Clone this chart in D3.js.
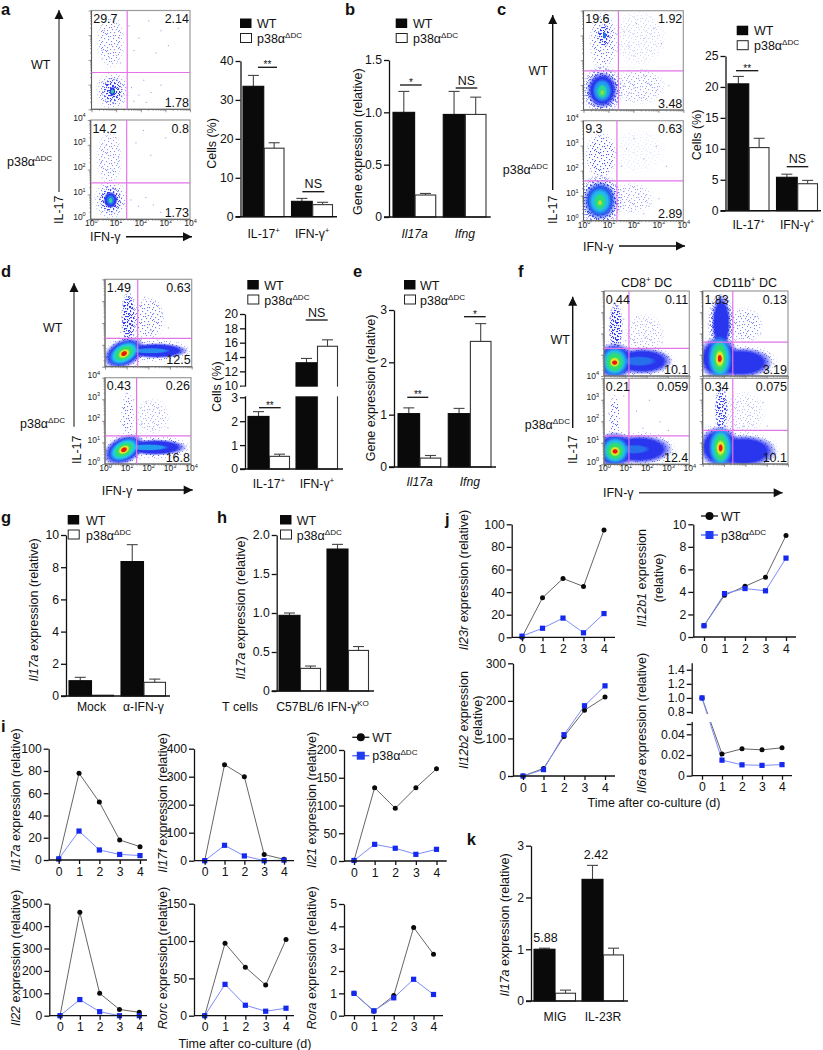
<!DOCTYPE html>
<html>
<head>
<meta charset="utf-8">
<script src="https://cdnjs.cloudflare.com/ajax/libs/d3/7.8.5/d3.min.js"></script>
<style>
  body { margin: 0; background: #fff; }
  svg { display: block; }
  text { font-family: "Liberation Sans", Arial, sans-serif; fill: #111; }
  .axis path, .axis line { stroke: #111; stroke-width: 1.3; }
  .axis text { font-size: 12.2px; font-family: "Liberation Sans", Arial, sans-serif; fill: #111; }
  .flowaxis line { stroke: #777; stroke-width: 0.7; }
  .flowaxis path { display: none; }
  .flowaxis text { font-size: 8.5px; font-family: "Liberation Sans", Arial, sans-serif; fill: #222; }
</style>
</head>
<body>
<script>
// ---- bar panel values ----
const cellCats = ["IL-17^{+}", "IFN-γ^{+}"];
const geneCats = ["_{Il17a}", "_{Ifng}"];
const aWT = [33.5, 3.95], aKO = [17.6, 3.1], aWTerr = [2.8, 0.75], aKOerr = [1.4, 0.6];
const bWT = [1.0, 0.98], bKO = [0.21, 0.98], bWTerr = [0.2, 0.22], bKOerr = [0.015, 0.165];
const cWT = [20.5, 5.4], cKO = [10.2, 4.36], cWTerr = [1.2, 0.5], cKOerr = [1.5, 0.54];
const dWT = [2.2, 13.2], dKO = [0.53, 15.5], dWTerr = [0.2, 0.6], dKOerr = [0.09, 0.9];
const eWT = [1.02, 1.02], eKO = [0.17, 2.4], eWTerr = [0.11, 0.1], eKOerr = [0.05, 0.34];
const gCats = ["Mock", "α-IFN-γ"];
const gWT = [0.95, 8.35], gKO = [0.05, 0.85], gWTerr = [0.21, 1.05], gKOerr = [0, 0.2];
const hCats = ["C57BL/6", "IFN-γ^{KO}"];
const hWT = [0.97, 1.82], hKO = [0.29, 0.52], hWTerr = [0.03, 0.06], hKOerr = [0.03, 0.05];
const kCats = ["MIG", "IL-23R"];
const kWT = [1.0, 2.35], kKO = [0.15, 0.89], kWTerr = [0.02, 0.27], kKOerr = [0.06, 0.13];

// ---- time course values ----
const days = [0, 1, 2, 3, 4];
const il17aWT = [1, 78, 52, 18, 12], il17aKO = [1, 26, 9, 5, 4];
const il17fWT = [0, 343, 300, 22, 5], il17fKO = [0, 55, 17, 0, 2];
const il21WT = [1, 132, 95, 132, 166], il21KO = [1, 30, 23, 12, 21];
const il22WT = [0, 462, 100, 28, 15], il22KO = [0, 72, 18, 0, 0];
const rorcWT = [0, 97, 65, 41, 102], rorcKO = [0, 42, 14, 6, 10];
const roraWT = [1, 0.2, 0.9, 3.95, 2.75], roraKO = [1, 0.22, 0.8, 1.63, 0.95];
const il23rWT = [0, 35, 52, 45, 95], il23rKO = [1, 8, 17, 4, 21];
const il12b1WT = [1, 3.7, 4.5, 5.3, 9], il12b1KO = [1, 3.85, 4.3, 4.1, 7];
const il12b2WT = [0, 20, 105, 175, 210], il12b2KO = [0, 17, 110, 187, 240];
const il6raWT = [1, 0.021, 0.026, 0.025, 0.027], il6raKO = [1, 0.015, 0.0105, 0.01, 0.0107];

// ---- flow plots: quadrant %, gate, density regions, sparse events (log10 units) ----
// density region = [x, y, radius x, radius y, density level, tilt]
const aWtPct = ["29.7", "2.14", "1.78"], aWtGate = [1.45, 1.49];
const aWtDensity = [[0.78, 2.75, 0.55, 1.05, 0.4], [0.85, 0.74, 0.65, 0.75, 0.4], [0.85, 0.75, 0.42, 0.52, 0.7], [0.85, 0.72, 0.24, 0.34, 0.75], [0.85, 0.72, 0.12, 0.18, 1.0], [0.85, 0.72, 0.06, 0.09, 2.6]];
const aWtEvents = [[1.5, 3.4], [1.9, 2.9], [2.3, 3.6], [2.8, 3.2], [3.1, 2.6], [3.5, 3.3], [1.7, 2.4], [2.6, 2.3], [1.6, 0.9], [1.9, 0.6], [2.1, 1.2], [2.4, 0.7], [1.7, 0.35], [2.8, 1.0], [3.1, 0.5], [2.2, 0.3], [0.5, 3.2], [0.9, 3.5], [1.1, 2.9], [0.4, 2.4], [0.7, 2.1], [1.0, 2.2], [0.55, 3.6], [1.15, 1.9], [0.3, 1.1], [1.3, 0.6]];
const aKoPct = ["14.2", "0.8", "1.73"], aKoGate = [1.45, 1.47];
const aKoDensity = [[0.75, 2.45, 0.5, 1.05, 0.35], [0.8, 0.78, 0.65, 0.75, 0.45], [0.8, 0.78, 0.44, 0.52, 0.75], [0.8, 0.78, 0.27, 0.32, 1.0], [0.8, 0.78, 0.16, 0.2, 1.5], [0.8, 0.76, 0.08, 0.1, 2.6]];
const aKoEvents = [[1.8, 3.1], [2.4, 2.6], [3.0, 3.3], [2.1, 3.6], [1.6, 0.8], [1.9, 0.55], [2.2, 0.9], [2.5, 0.6], [2.8, 0.3], [0.6, 3.0], [1.0, 3.3], [0.85, 2.0], [0.4, 2.3], [1.1, 2.5], [0.7, 3.5]];
const cWtPct = ["19.6", "1.92", "3.48"], cWtGate = [1.4, 1.58];
const cWtDensity = [[2.25, 0.97, 1.0, 0.7, 0.3], [2.2, 2.9, 1.1, 1.1, 0.15], [0.79, 2.79, 0.55, 1.15, 0.45], [0.82, 3.0, 0.27, 0.45, 0.75], [0.85, 3.0, 0.07, 0.13, 1.4], [0.75, 0.8, 0.78, 0.92, 0.6], [0.75, 0.8, 0.58, 0.68, 1.0], [0.75, 0.78, 0.36, 0.44, 1.7], [0.75, 0.75, 0.2, 0.27, 2.6], [0.75, 0.7, 0.08, 0.11, 3.4]];
const cWtEvents = [[1.6, 3.2], [1.8, 2.6], [2.1, 3.5], [2.4, 2.9], [2.8, 3.3], [3.1, 2.7], [2.0, 2.2], [1.6, 1.0], [1.9, 0.7], [2.1, 1.3], [2.3, 0.5], [2.6, 1.1], [2.9, 0.8], [3.2, 0.4], [3.4, 1.0], [1.7, 0.4], [2.4, 1.4], [2.0, 0.9]];
const cKoPct = ["9.3", "0.63", "2.89"], cKoGate = [1.34, 1.59];
const cKoDensity = [[1.9, 0.9, 0.9, 0.6, 0.3], [2.2, 2.8, 1.1, 0.9, 0.08], [0.7, 2.6, 0.6, 0.9, 0.55], [0.66, 0.8, 0.85, 0.98, 0.7], [0.66, 0.8, 0.62, 0.72, 1.2], [0.66, 0.78, 0.42, 0.5, 1.9], [0.66, 0.76, 0.23, 0.32, 2.8], [0.66, 0.72, 0.09, 0.11, 3.6]];
const cKoEvents = [[1.7, 2.9], [2.0, 3.3], [2.4, 2.5], [2.9, 3.0], [3.3, 2.2], [1.5, 2.2], [1.6, 1.2], [2.2, 1.1], [2.6, 0.6], [3.0, 0.9], [2.4, 0.3], [1.9, 0.4]];
const dWtPct = ["1.49", "0.63", "12.5"], dWtGate = [1.51, 1.3];
const dWtDensity = [[2.0, 2.2, 0.75, 0.95, 0.45], [0.9, 0.62, 1.1, 0.75, 0.5, -25], [2.4, 0.73, 1.5, 0.5, 0.5], [1.08, 2.2, 0.32, 1.2, 0.75], [1.08, 2.1, 0.2, 1.0, 0.75], [2.38, 0.73, 1.35, 0.33, 1], [0.88, 0.62, 0.95, 0.6, 1, -25], [2.1, 0.73, 0.85, 0.12, 1.6], [0.88, 0.62, 0.7, 0.44, 2.0, -30], [0.88, 0.62, 0.48, 0.3, 2.9, -30], [0.88, 0.6, 0.27, 0.18, 3.9, -30], [0.88, 0.6, 0.15, 0.11, 5, -30]];
const dWtEvents = [[1.8, 3.2], [2.3, 3.0], [2.6, 2.5], [2.1, 1.7], [2.9, 1.8], [0.8, 3.0], [1.3, 3.1], [0.7, 1.6]];
const dKoPct = ["0.43", "0.26", "16.8"], dKoGate = [1.47, 1.3];
const dKoDensity = [[2.2, 2.2, 0.8, 0.8, 0.25], [1.05, 2.3, 0.3, 1.0, 0.45], [0.9, 0.66, 1.1, 0.75, 0.5, -25], [2.4, 0.77, 1.5, 0.52, 0.5], [2.35, 0.77, 1.35, 0.35, 1], [0.88, 0.66, 0.95, 0.6, 1, -25], [2.0, 0.77, 0.9, 0.14, 1.7], [0.88, 0.66, 0.7, 0.44, 2.0, -30], [0.88, 0.66, 0.48, 0.3, 2.9, -30], [0.88, 0.66, 0.27, 0.18, 3.9, -30], [0.88, 0.66, 0.15, 0.11, 5, -30]];
const dKoEvents = [[1.9, 2.9], [2.5, 2.4], [2.9, 1.7], [2.2, 1.6], [1.7, 1.9], [1.0, 3.3], [0.7, 2.0], [1.3, 3.0]];
const f8WtPct = ["0.44", "0.11", "10.1"], f8WtGate = [1.17, 1.3];
const f8WtDensity = [[1.9, 2.0, 0.9, 0.9, 0.25], [0.55, 2.3, 0.32, 1.1, 0.75], [0.55, 2.2, 0.2, 0.95, 0.75], [0.5, 0.7, 1.05, 0.95, 0.5], [1.8, 0.7, 1.45, 0.75, 0.5], [1.8, 0.7, 1.3, 0.58, 1], [0.5, 0.7, 0.9, 0.8, 1], [1.65, 0.7, 0.75, 0.22, 1.4], [0.5, 0.68, 0.6, 0.66, 1.9], [0.5, 0.66, 0.41, 0.46, 2.9], [0.5, 0.65, 0.22, 0.22, 3.9], [0.5, 0.63, 0.13, 0.11, 5]];
const f8WtEvents = [[1.5, 2.8], [1.9, 1.8], [2.3, 2.2], [2.7, 1.6], [1.4, 1.6], [0.3, 3.0], [0.9, 2.7], [1.0, 1.7]];
const f8KoPct = ["0.21", "0.059", "12.4"], f8KoGate = [1.17, 1.32];
const f8KoDensity = [[0.5, 2.2, 0.26, 1.05, 0.5], [0.5, 0.68, 1.05, 0.95, 0.5], [1.7, 0.7, 1.6, 0.8, 0.5], [1.64, 0.7, 1.45, 0.63, 1], [0.5, 0.66, 0.9, 0.78, 1], [1.4, 0.7, 0.7, 0.2, 1.4], [0.52, 0.64, 0.6, 0.6, 1.9], [0.52, 0.62, 0.41, 0.41, 2.9], [0.52, 0.6, 0.22, 0.22, 3.9], [0.52, 0.6, 0.13, 0.11, 5]];
const f8KoEvents = [[1.5, 2.5], [2.1, 3.0], [2.6, 2.0], [3.0, 1.6], [1.8, 1.7], [0.9, 3.2], [0.2, 2.4]];
const f11WtPct = ["1.83", "0.13", "3.19"], f11WtGate = [1.41, 1.59];
const f11WtDensity = [[2.0, 2.4, 0.8, 0.8, 0.4], [0.87, 2.5, 0.6, 1.35, 0.6], [0.8, 0.9, 1.05, 1.1, 0.5], [1.9, 0.65, 1.5, 0.8, 0.5], [0.87, 2.5, 0.42, 1.2, 1], [1.82, 0.63, 1.35, 0.66, 1], [0.75, 0.85, 0.9, 0.95, 1], [0.8, 0.85, 0.52, 0.95, 1.9], [0.8, 0.85, 0.33, 0.7, 2.9], [0.8, 0.82, 0.2, 0.38, 3.9], [0.8, 0.82, 0.1, 0.18, 5]];
const f11WtEvents = [[1.7, 3.1], [2.4, 2.8], [2.7, 2.0], [1.8, 1.8], [3.1, 1.1], [3.3, 0.6]];
const f11KoPct = ["0.34", "0.075", "10.1"], f11KoGate = [1.41, 1.57];
const f11KoDensity = [[1.9, 2.4, 1.0, 1.0, 0.2], [0.87, 2.56, 0.3, 1.05, 0.7], [0.8, 0.85, 1.05, 1.05, 0.5], [1.9, 0.6, 1.6, 0.85, 0.5], [1.9, 0.6, 1.45, 0.7, 1], [0.78, 0.8, 0.9, 0.9, 1], [0.84, 0.78, 0.52, 0.85, 1.9], [0.84, 0.76, 0.33, 0.65, 2.9], [0.84, 0.75, 0.2, 0.35, 3.9], [0.84, 0.75, 0.1, 0.17, 5]];
const f11KoEvents = [[1.6, 2.9], [2.2, 2.3], [2.8, 2.9], [3.0, 1.8], [1.9, 1.8], [3.4, 0.5]];

// ---- setup ----
const W = 823, H = 1050;
const ROOT = d3.select("body").append("svg").attr("width", W).attr("height", H);
const FS = 12.5;
const KO = "p38α^{ΔDC}";
const density = d3.scaleLinear().domain([0, 1, 2, 3, 4, 5])
  .range(["#ffffff", "#2a35ee", "#22c8ee", "#30e060", "#f0e820", "#ee1810"]);
const fmt1 = d => d === 0 ? "0" : d3.format(".1f")(d);
const fmt2 = d => d === 0 ? "0" : d3.format(".2f")(d);

const defs = ROOT.append("defs");
defs.append("filter").attr("id", "soft")
  .attr("x", "-20%").attr("y", "-20%").attr("width", "140%").attr("height", "140%")
  .append("feGaussianBlur").attr("stdDeviation", 0.7);
defs.append("filter").attr("id", "softer")
  .attr("x", "-5%").attr("y", "-5%").attr("width", "110%").attr("height", "110%")
  .append("feGaussianBlur").attr("stdDeviation", 0.35);

// stipple tile so the thin regions of a flow plot read as single events
const stippleDots = [[0, 1], [4, 0], [8, 2], [13, 1], [16, 3], [2, 4], [6, 5], [11, 4], [14, 6], [0, 7], [4, 8], [9, 7], [12, 9], [16, 8], [2, 11], [7, 10], [10, 12], [14, 12], [0, 13], [5, 13], [8, 15], [12, 15], [16, 14], [3, 16], [6, 2], [15, 10], [1, 15], [11, 1], [9, 10], [5, 16]];
const stip = defs.append("pattern").attr("id", "stipple").attr("patternUnits", "userSpaceOnUse")
  .attr("width", 17).attr("height", 17);
stip.selectAll("rect").data(stippleDots).join("rect")
  .attr("x", d => d[0]).attr("y", d => d[1]).attr("width", 1.1).attr("height", 1.1).attr("fill", "#fff");
defs.append("mask").attr("id", "stippleMask").attr("maskUnits", "userSpaceOnUse")
  .attr("x", 0).attr("y", 0).attr("width", W).attr("height", H)
  .append("rect").attr("width", W).attr("height", H).attr("fill", "url(#stipple)");
const denseMask = defs.append("mask").attr("id", "denseMask").attr("maskUnits", "userSpaceOnUse")
  .attr("x", 0).attr("y", 0).attr("width", W).attr("height", H);
[[0, 0], [6, 9], [11, 4]].forEach(([dx, dy]) => {
  denseMask.append("rect").attr("x", -17).attr("y", -17).attr("width", W + 34).attr("height", H + 34)
    .attr("fill", "url(#stipple)").attr("transform", `translate(${dx},${dy})`);
});

// radial fade in the colour of one density level
const fades = new Map();
function fadeFill(level) {
  if (!fades.has(level)) {
    const id = "fade" + fades.size;
    const grad = defs.append("radialGradient").attr("id", id);
    const c = density(level);
    grad.append("stop").attr("offset", "0%").attr("stop-color", c);
    grad.append("stop").attr("offset", "68%").attr("stop-color", c);
    grad.append("stop").attr("offset", "100%").attr("stop-color", c).attr("stop-opacity", 0);
    fades.set(level, id);
  }
  return `url(#${fades.get(level)})`;
}

// splits "a^{b}_{c}" into normal, superscript and italic tspans
function rich(sel, str, size) {
  sel.text(null);
  let back = 0;
  str.split(/(\^\{[^}]*\}|_\{[^}]*\})/).filter(Boolean).forEach(p => {
    const t = sel.append("tspan");
    if (p.startsWith("^{")) {
      t.text(p.slice(2, -1)).attr("font-size", size * 0.65).attr("dy", -size * 0.4);
      back = size * 0.4;
    } else {
      t.text(p.startsWith("_{") ? p.slice(2, -1) : p)
        .attr("font-style", p.startsWith("_{") ? "italic" : "normal").attr("dy", back);
      back = 0;
    }
  });
}

function label(x, y, str, o = {}) {
  const size = o.size || FS;
  const t = ROOT.append("text").attr("font-size", size).attr("text-anchor", o.anchor || "start")
    .attr("font-weight", o.weight || "normal")
    .attr("transform", o.rotate ? `translate(${x},${y}) rotate(-90)` : `translate(${x},${y})`);
  rich(t, str, size);
  return t;
}

function arrow(x1, y1, x2, y2, color) {
  const a = Math.atan2(y2 - y1, x2 - x1) * 180 / Math.PI;
  ROOT.append("line").attr("x1", x1).attr("y1", y1).attr("x2", x2).attr("y2", y2)
    .attr("stroke", color).attr("stroke-width", 1.4);
  ROOT.append("path").attr("d", "M0,0L-9,-4.5L-9,4.5Z").attr("fill", "#111")
    .attr("transform", `translate(${x2},${y2}) rotate(${a})`);
}

function barLegend(x, y, textX) {
  ROOT.append("rect").attr("x", x).attr("y", y).attr("width", 11.5).attr("height", 9.5).attr("fill", "#0a0a0a");
  ROOT.append("rect").attr("x", x + 0.5).attr("y", y + 15).attr("width", 11).attr("height", 9)
    .attr("fill", "#fff").attr("stroke", "#222").attr("stroke-width", 1);
  label(textX, y + 9.5, "WT");
  label(textX, y + 24.5, KO);
}

function lineLegend(x, y, y2) {
  [y, y2].forEach((yy, i) => {
    ROOT.append("line").attr("x1", x).attr("x2", x + 17).attr("y1", yy).attr("y2", yy)
      .attr("stroke", i ? "#5568f5" : "#222").attr("stroke-width", 1.4);
  });
  ROOT.append("circle").attr("cx", x + 8.5).attr("cy", y).attr("r", 4).attr("fill", "#0a0a0a");
  ROOT.append("rect").attr("x", x + 4.5).attr("y", y2 - 4).attr("width", 8).attr("height", 8).attr("fill", "#1f3cf0");
  label(x + 20, y + 5, "WT");
  label(x + 20, y2 + 4.5, KO);
}

// ---- grouped bars ----
function barPanel(s) {
  const g = ROOT.append("g");
  const n = s.cats.length;
  const step = (s.right - s.left + s.gap) / n;
  const x0 = d3.scaleBand().domain(s.cats).range([s.left, s.right]).paddingInner(s.gap / step);
  const x1 = d3.scaleBand().domain(["WT", "KO"]).range([0, x0.bandwidth()]);
  const y = s.y;

  [["WT", s.wt, s.wtErr], ["KO", s.ko, s.koErr]].forEach(([name, vals, errs]) => {
    const cx = c => x0(c) + x1(name) + x1.bandwidth() / 2;
    const errG = g.append("g").attr("stroke", "#444").attr("stroke-width", 1.1);
    errG.selectAll("line.stem").data(s.cats.filter((c, i) => errs[i] > 0)).join("line").attr("class", "stem")
      .attr("x1", cx).attr("x2", cx)
      .attr("y1", c => y(vals[s.cats.indexOf(c)]))
      .attr("y2", c => y(vals[s.cats.indexOf(c)] + errs[s.cats.indexOf(c)]));
    errG.selectAll("line.cap").data(s.cats.filter((c, i) => errs[i] > 0)).join("line").attr("class", "cap")
      .attr("x1", c => cx(c) - 5.5).attr("x2", c => cx(c) + 5.5)
      .attr("y1", c => y(vals[s.cats.indexOf(c)] + errs[s.cats.indexOf(c)]))
      .attr("y2", c => y(vals[s.cats.indexOf(c)] + errs[s.cats.indexOf(c)]));
    g.selectAll(`rect.${name}`).data(s.cats).join("rect").attr("class", name)
      .attr("x", c => x0(c) + x1(name) + (name === "KO" ? 0.5 : 0))
      .attr("width", x1.bandwidth() - (name === "KO" ? 1 : 0))
      .attr("y", (c, i) => y(vals[i]))
      .attr("height", (c, i) => y(0) - y(vals[i]))
      .attr("fill", name === "WT" ? "#0a0a0a" : "#fff")
      .attr("stroke", name === "WT" ? "#0a0a0a" : "#333")
      .attr("stroke-width", 1.1);
  });

  g.append("g").attr("class", "axis").attr("transform", `translate(${s.axisX},0)`)
    .call(d3.axisLeft(y).tickValues(s.ticks).tickFormat(s.fmt || (d => d)).tickSize(5).tickSizeOuter(0).tickPadding(2));
  if (s.gapBand) {
    g.append("rect").attr("x", s.axisX - 4).attr("width", s.end - s.axisX + 6)
      .attr("y", y(s.gapBand[1]) + 1).attr("height", y(s.gapBand[0]) - y(s.gapBand[1]) - 2).attr("fill", "#fff");
  }

  // labelGap is the distance from the baseline down to the label baseline
  const bottom = g.append("g").attr("class", "axis").attr("transform", `translate(0,${y(0)})`)
    .call(d3.axisBottom(x0).tickSize(0).tickPadding(s.labelGap));
  bottom.select("path").remove();
  bottom.selectAll("text").attr("dy", null).each(function (c) { rich(d3.select(this), c, FS); });
  g.append("line").attr("x1", s.axisX - 5).attr("x2", s.end).attr("y1", y(0)).attr("y2", y(0))
    .attr("stroke", "#111").attr("stroke-width", 1.6);
}

function sig(x1, x2, y, str) {
  ROOT.append("line").attr("x1", x1).attr("x2", x2).attr("y1", y).attr("y2", y)
    .attr("stroke", "#111").attr("stroke-width", 1.3);
  const isNS = str === "NS";
  label((x1 + x2) / 2, isNS ? y - 3.5 : y + 1, str, { anchor: "middle", size: isNS ? FS : 10 });
}

// ---- time courses ----
function linePanel(s) {
  const g = ROOT.append("g");
  const x = d3.scaleLinear().domain([0, 4]).range([s.x0, s.x4]);
  const y = s.y;
  const line = d3.line().x((d, i) => x(days[i])).y(d => y(d));

  g.append("path").attr("d", line(s.wt)).attr("fill", "none").attr("stroke", "#666").attr("stroke-width", 1);
  g.append("path").attr("d", line(s.ko)).attr("fill", "none").attr("stroke", "#7d8cf8").attr("stroke-width", 1);
  g.selectAll("circle").data(s.wt).join("circle")
    .attr("cx", (d, i) => x(days[i])).attr("cy", d => y(d)).attr("r", 2.5).attr("fill", "#0a0a0a");
  g.selectAll("rect").data(s.ko).join("rect")
    .attr("x", (d, i) => x(days[i]) - 2.6).attr("y", d => y(d) - 2.6)
    .attr("width", 5.2).attr("height", 5.2).attr("fill", "#1428ee");

  g.append("g").attr("class", "axis").attr("transform", `translate(${s.axisX},0)`)
    .call(d3.axisLeft(y).tickValues(s.ticks).tickFormat(s.fmt || (d => d)).tickSize(5).tickSizeOuter(0).tickPadding(2));
  if (s.gapBand) {
    g.append("rect").attr("x", s.axisX - 4).attr("width", 30)
      .attr("y", y(s.gapBand[1]) + 2).attr("height", y(s.gapBand[0]) - y(s.gapBand[1]) - 4).attr("fill", "#fff");
  }
  const bottom = g.append("g").attr("class", "axis").attr("transform", `translate(0,${y(0)})`)
    .call(d3.axisBottom(x).tickValues(days).tickFormat(d => d).tickSize(4).tickPadding(3));
  bottom.select("path").remove();
  g.append("line").attr("x1", s.axisX).attr("x2", s.end).attr("y1", y(0)).attr("y2", y(0))
    .attr("stroke", "#111").attr("stroke-width", 1.3);
}

// ---- flow cytometry plot ----
let flowId = 0;
function flowPlot(s) {
  const [xa, xb, ya, yb] = s.frame;
  const x = d3.scaleLinear().domain([0, 4]).range([xa, xb]);
  const y = d3.scaleLinear().domain([0, 4]).range([yb, ya]);
  const id = "clip" + (flowId++);
  defs.append("clipPath").attr("id", id).append("rect")
    .attr("x", xa).attr("y", ya).attr("width", xb - xa).attr("height", yb - ya);
  const g = ROOT.append("g");
  const inner = g.append("g").attr("clip-path", `url(#${id})`);

  const region = (sel, data, fill) => sel.selectAll("ellipse").data(data).join("ellipse")
    .attr("cx", d => x(d[0])).attr("cy", d => y(d[1]))
    .attr("rx", d => (x(d[2]) - x(0)) * 1.1).attr("ry", d => (y(0) - y(d[3])) * 1.1)
    .attr("fill", fill)
    .attr("transform", d => `rotate(${d[5] || 0},${x(d[0])},${y(d[1])})`);
  // thin regions are stippled, dense ones are solid heat colours
  const thin = s.density.filter(d => d[4] < 0.6);
  const mid = s.density.filter(d => d[4] >= 0.6 && d[4] < 0.8);
  const thinG = inner.append("g").attr("filter", "url(#softer)");
  region(thinG.append("g").attr("mask", "url(#stippleMask)").append("g"), thin, d => fadeFill(Math.min(1, d[4] * 1.5)));
  region(thinG.append("g").attr("mask", "url(#denseMask)").append("g"), mid, d => fadeFill(d[4] + 0.2));
  region(inner.append("g").attr("filter", "url(#soft)"),
    s.density.filter(d => d[4] >= 0.8), d => fadeFill(d[4]));
  inner.append("g").selectAll("rect").data(s.events).join("rect")
    .attr("x", d => x(d[0])).attr("y", d => y(d[1])).attr("width", 1.1).attr("height", 1.1)
    .attr("fill", "#9aa0f0");

  // minor log ticks
  const minors = d3.range(0, 4).flatMap(d => d3.range(1, 10).map(m => d + Math.log10(m))).concat([4]);
  const majors = [0, 1, 2, 3, 4];
  const pow = d => `10^{${d}}`;
  [["axisBottom", x, `translate(0,${yb})`, 4], ["axisLeft", y, `translate(${xa},0)`, 2]].forEach(([fn, sc, tr, pad]) => {
    g.append("g").attr("class", "flowaxis").attr("transform", tr)
      .call(d3[fn](sc).tickValues(minors).tickSize(1.5).tickFormat(""));
    const maj = g.append("g").attr("class", "flowaxis").attr("transform", tr)
      .call(d3[fn](sc).tickValues(majors).tickSize(3).tickPadding(pad).tickFormat(s.labelled ? d => d : ""));
    if (s.labelled) maj.selectAll("text").each(function (d) { rich(d3.select(this), pow(d), 8.5); });
  });

  g.append("rect").attr("x", xa).attr("y", ya).attr("width", xb - xa).attr("height", yb - ya)
    .attr("fill", "none").attr("stroke", "#9a9a9a").attr("stroke-width", 1.2);
  g.append("path").attr("d", `M${xa},${ya}V${yb}H${xb}`).attr("fill", "none").attr("stroke", "#555").attr("stroke-width", 0.9);

  g.append("line").attr("x1", x(s.gate[0])).attr("x2", x(s.gate[0])).attr("y1", ya).attr("y2", yb)
    .attr("stroke", "#e274e8").attr("stroke-width", 1.2);
  g.append("line").attr("x1", xa).attr("x2", xb).attr("y1", y(s.gate[1])).attr("y2", y(s.gate[1]))
    .attr("stroke", "#e274e8").attr("stroke-width", 1.2);

  label(xa + 1.7, ya + 12.7, s.pct[0]);
  label(xb - 1, ya + 12.7, s.pct[1], { anchor: "end" });
  label(xb - 1, yb - 2.5, s.pct[2], { anchor: "end" });
}

// ---- panel a ----
flowPlot({ frame: [91.5, 190, 10.5, 109.3], pct: aWtPct, gate: aWtGate, density: aWtDensity, events: aWtEvents });
flowPlot({ frame: [90.7, 190, 120, 219.3], pct: aKoPct, gate: aKoGate, density: aKoDensity, events: aKoEvents, labelled: true });
arrow(59, 192, 59, 10, "#555");
label(63, 224, "IL-17", { rotate: true });
label(31, 69, "WT");
label(7, 166, KO);
label(90, 241, "IFN-γ");
arrow(126, 236.7, 192, 236.7, "#111");
barLegend(240, 18.5, 257);
barPanel({ cats: cellCats, wt: aWT, ko: aKO, wtErr: aWTerr, koErr: aKOerr, axisX: 240.5, left: 243, right: 333, gap: 7, end: 337,
  y: d3.scaleLinear().domain([0, 40]).range([216.7, 61]), ticks: [0, 10, 20, 30, 40], labelGap: 21 });
label(216, 143.5, "Cells (%)", { rotate: true, anchor: "middle" });
sig(258, 277, 67.3, "**");
sig(302.3, 324.3, 191.7, "NS");

// ---- panel b ----
barLegend(395.7, 18.5, 413);
barPanel({ cats: geneCats, wt: bWT, ko: bKO, wtErr: bWTerr, koErr: bKOerr, axisX: 389, left: 393, right: 486.5, gap: 7, end: 490.7,
  y: d3.scaleLinear().domain([0, 1.5]).range([217, 60]), ticks: [0, 0.5, 1, 1.5], fmt: fmt1, labelGap: 21 });
label(361.5, 141.7, "Gene expression (relative)", { rotate: true, anchor: "middle" });
sig(400, 421.7, 85, "*");
sig(455.7, 477.3, 88, "NS");

// ---- panel c ----
flowPlot({ frame: [583.5, 683.3, 10.7, 110], pct: cWtPct, gate: cWtGate, density: cWtDensity, events: cWtEvents });
flowPlot({ frame: [583.5, 683.3, 120.7, 220.7], pct: cKoPct, gate: cKoGate, density: cKoDensity, events: cKoEvents, labelled: true });
arrow(552.7, 190, 552.7, 15, "#111");
label(557, 224, "IL-17", { rotate: true });
label(548, 74.5, "WT", { anchor: "end" });
label(548, 174, KO, { anchor: "end" });
label(583, 251, "IFN-γ");
arrow(619, 246, 685, 246, "#111");
barLegend(736.7, 25.7, 754);
barPanel({ cats: cellCats, wt: cWT, ko: cKO, wtErr: cWTerr, koErr: cKOerr, axisX: 725.5, left: 728, right: 818, gap: 7, end: 821,
  y: d3.scaleLinear().domain([0, 25]).range([210.7, 56]), ticks: [0, 5, 10, 15, 20, 25], labelGap: 18 });
label(700.5, 135, "Cells (%)", { rotate: true, anchor: "middle" });
sig(736, 758.3, 70.7, "**");
sig(786.7, 808.3, 166.7, "NS");

// ---- panel d ----
flowPlot({ frame: [105, 191.7, 279.3, 366.7], pct: dWtPct, gate: dWtGate, density: dWtDensity, events: dWtEvents });
flowPlot({ frame: [105, 191, 377.7, 464], pct: dKoPct, gate: dKoGate, density: dKoDensity, events: dKoEvents, labelled: true });
arrow(74, 426.7, 74, 283, "#555");
label(80.5, 464, "IL-17", { rotate: true });
label(43, 331.5, "WT");
label(20, 428, KO);
label(101.7, 495, "IFN-γ");
arrow(137, 490, 192.7, 490, "#111");
barLegend(247.3, 280, 264.3);
const dY = d3.scaleLinear().domain([0, 3, 10, 20]).range([469, 397.3, 385.7, 314]);
barPanel({ cats: cellCats, wt: dWT, ko: dKO, wtErr: dWTerr, koErr: dKOerr, axisX: 245, left: 248, right: 338, gap: 6, end: 343,
  y: dY, ticks: [0, 1, 2, 3, 10, 12, 14, 16, 18, 20], gapBand: [3, 10], labelGap: 19 });
label(221, 386.7, "Cells (%)", { rotate: true, anchor: "middle" });
sig(259, 280.7, 407.7, "**");
sig(305.7, 327.7, 320, "NS");

// ---- panel e ----
barLegend(404, 280, 420);
barPanel({ cats: geneCats, wt: eWT, ko: eKO, wtErr: eWTerr, koErr: eKOerr, axisX: 394, left: 398, right: 491.5, gap: 7, end: 496,
  y: d3.scaleLinear().domain([0, 3]).range([467, 310]), ticks: [0, 1, 2, 3], labelGap: 19 });
label(375, 388, "Gene expression (relative)", { rotate: true, anchor: "middle" });
sig(407.3, 428.3, 397.3, "**");
sig(464, 485.7, 316.7, "*");

// ---- panel f ----
flowPlot({ frame: [604, 689.3, 291, 376], pct: f8WtPct, gate: f8WtGate, density: f8WtDensity, events: f8WtEvents });
flowPlot({ frame: [604, 689.3, 378.3, 464.3], pct: f8KoPct, gate: f8KoGate, density: f8KoDensity, events: f8KoEvents, labelled: true });
flowPlot({ frame: [702.7, 788, 291, 376], pct: f11WtPct, gate: f11WtGate, density: f11WtDensity, events: f11WtEvents });
flowPlot({ frame: [702.7, 788, 378.3, 464], pct: f11KoPct, gate: f11KoGate, density: f11KoDensity, events: f11KoEvents });
label(646.7, 287, "CD8^{+} DC", { anchor: "middle" });
label(745, 287, "CD11b^{+} DC", { anchor: "middle" });
arrow(572.7, 428, 572.7, 296.7, "#111");
label(577, 464, "IL-17", { rotate: true });
label(570, 343.5, "WT", { anchor: "end" });
label(570, 429, KO, { anchor: "end" });
label(603, 497, "IFN-γ");
arrow(639, 492.7, 782.7, 492.7, "#444");

// ---- panel g ----
barLegend(67.7, 515, 86);
barPanel({ cats: gCats, wt: gWT, ko: gKO, wtErr: gWTerr, koErr: gKOerr, axisX: 66, left: 69, right: 166, gap: 7, end: 170,
  y: d3.scaleLinear().domain([0, 10]).range([696, 535]), ticks: [0, 2, 4, 6, 8, 10], labelGap: 15 });
label(37.5, 610, "_{Il17a} expression (relative)", { rotate: true, anchor: "middle" });

// ---- panel h ----
barLegend(280, 515, 296.7);
barPanel({ cats: hCats, wt: hWT, ko: hKO, wtErr: hWTerr, koErr: hKOerr, axisX: 276.7, left: 279, right: 369, gap: 6, end: 374,
  y: d3.scaleLinear().domain([0, 2]).range([691, 535]), ticks: [0, 0.5, 1, 1.5, 2], fmt: fmt1, labelGap: 20 });
label(244.5, 608, "_{Il17a} expression (relative)", { rotate: true, anchor: "middle" });
label(240, 711, "T cells", { anchor: "middle" });

// ---- panel i ----
const COURSE = "expression (relative)";
linePanel({ wt: il17aWT, ko: il17aKO, axisX: 48.7, x0: 58.7, x4: 140, end: 147,
  y: d3.scaleLinear().domain([0, 100]).range([860, 748.7]), ticks: [0, 20, 40, 60, 80, 100] });
label(20, 800, `_{Il17a} ${COURSE}`, { rotate: true, anchor: "middle" });
linePanel({ wt: il17fWT, ko: il17fKO, axisX: 194, x0: 204.7, x4: 284, end: 294,
  y: d3.scaleLinear().domain([0, 400]).range([860.7, 748.7]), ticks: [0, 100, 200, 300, 400] });
label(166.5, 803, `_{Il17f} ${COURSE}`, { rotate: true, anchor: "middle" });
linePanel({ wt: il21WT, ko: il21KO, axisX: 344, x0: 354, x4: 436.5, end: 446.7,
  y: d3.scaleLinear().domain([0, 200]).range([861, 750]), ticks: [0, 50, 100, 150, 200] });
label(316, 800, `_{Il21} ${COURSE}`, { rotate: true, anchor: "middle" });
linePanel({ wt: il22WT, ko: il22KO, axisX: 49.3, x0: 60, x4: 139.3, end: 147,
  y: d3.scaleLinear().domain([0, 500]).range([1015.7, 903.7]), ticks: [0, 100, 200, 300, 400, 500] });
label(20, 958, `_{Il22} ${COURSE}`, { rotate: true, anchor: "middle" });
linePanel({ wt: rorcWT, ko: rorcKO, axisX: 194, x0: 204.7, x4: 286, end: 294,
  y: d3.scaleLinear().domain([0, 150]).range([1015.7, 903.7]), ticks: [0, 50, 100, 150] });
label(166.5, 958, `_{Rorc} ${COURSE}`, { rotate: true, anchor: "middle" });
linePanel({ wt: roraWT, ko: roraKO, axisX: 344, x0: 354, x4: 433.5, end: 443,
  y: d3.scaleLinear().domain([0, 5]).range([1015.7, 904]), ticks: [0, 1, 2, 3, 4, 5] });
label(315.5, 958, `_{Rora} ${COURSE}`, { rotate: true, anchor: "middle" });
lineLegend(352.3, 737.3, 755.7);
label(245, 1047.5, "Time after co-culture (d)", { anchor: "middle" });

// ---- panel j ----
linePanel({ wt: il23rWT, ko: il23rKO, axisX: 511.7, x0: 522, x4: 604, end: 615,
  y: d3.scaleLinear().domain([0, 100]).range([637.3, 524.3]), ticks: [0, 20, 40, 60, 80, 100] });
label(467.5, 580, `_{Il23r} ${COURSE}`, { rotate: true, anchor: "middle" });
linePanel({ wt: il12b1WT, ko: il12b1KO, axisX: 693.3, x0: 704, x4: 786, end: 796,
  y: d3.scaleLinear().domain([0, 10]).range([637, 524.3]), ticks: [0, 2, 4, 6, 8, 10] });
label(646, 578, "_{Il12b1} expression", { rotate: true, anchor: "middle" });
label(662.5, 578, "(relative)", { rotate: true, anchor: "middle" });
linePanel({ wt: il12b2WT, ko: il12b2KO, axisX: 513, x0: 523, x4: 605, end: 615,
  y: d3.scaleLinear().domain([0, 300]).range([776, 663.3]), ticks: [0, 100, 200, 300] });
label(467.5, 720, "_{Il12b2} expression", { rotate: true, anchor: "middle" });
label(482, 720, "(relative)", { rotate: true, anchor: "middle" });
linePanel({ wt: il6raWT, ko: il6raKO, axisX: 691.7, x0: 702, x4: 782, end: 792,
  y: d3.scaleLinear().domain([0, 0.05, 0.8, 1.5]).range([775.7, 724, 712, 662.7]),
  ticks: [0, 0.02, 0.04, 0.05, 0.8, 1, 1.2, 1.4], gapBand: [0.05, 0.8],
  fmt: d => d === 0.05 ? "" : d < 0.1 ? fmt2(d) : fmt1(d) });
label(646, 723, `_{Il6ra} ${COURSE}`, { rotate: true, anchor: "middle" });
lineLegend(701, 516, 535);
label(654, 807, "Time after co-culture (d)", { anchor: "middle" });

// ---- panel k ----
barPanel({ cats: kCats, wt: kWT, ko: kKO, wtErr: kWTerr, koErr: kKOerr, axisX: 531, left: 534, right: 624, gap: 6, end: 628,
  y: d3.scaleLinear().domain([0, 3]).range([1001, 845.7]), ticks: [0, 1, 2, 3], labelGap: 20 });
label(508.5, 925, "_{Il17a} expression (relative)", { rotate: true, anchor: "middle" });
label(545.5, 942, "5.88", { anchor: "middle" });
label(596, 859, "2.42", { anchor: "middle" });

// ---- panel letters ----
[["a", 1, 14.5], ["b", 345, 14.5], ["c", 497, 14.5], ["d", 1, 276.7], ["e", 353, 276.7], ["f", 518, 276.7],
 ["g", 1, 523], ["h", 217, 523], ["i", 1, 731.7], ["j", 445, 525], ["k", 466.7, 845]].forEach(([t, x, y]) => {
  label(x, y, t, { size: 16.5, weight: "bold" });
});
</script>
</body>
</html>
